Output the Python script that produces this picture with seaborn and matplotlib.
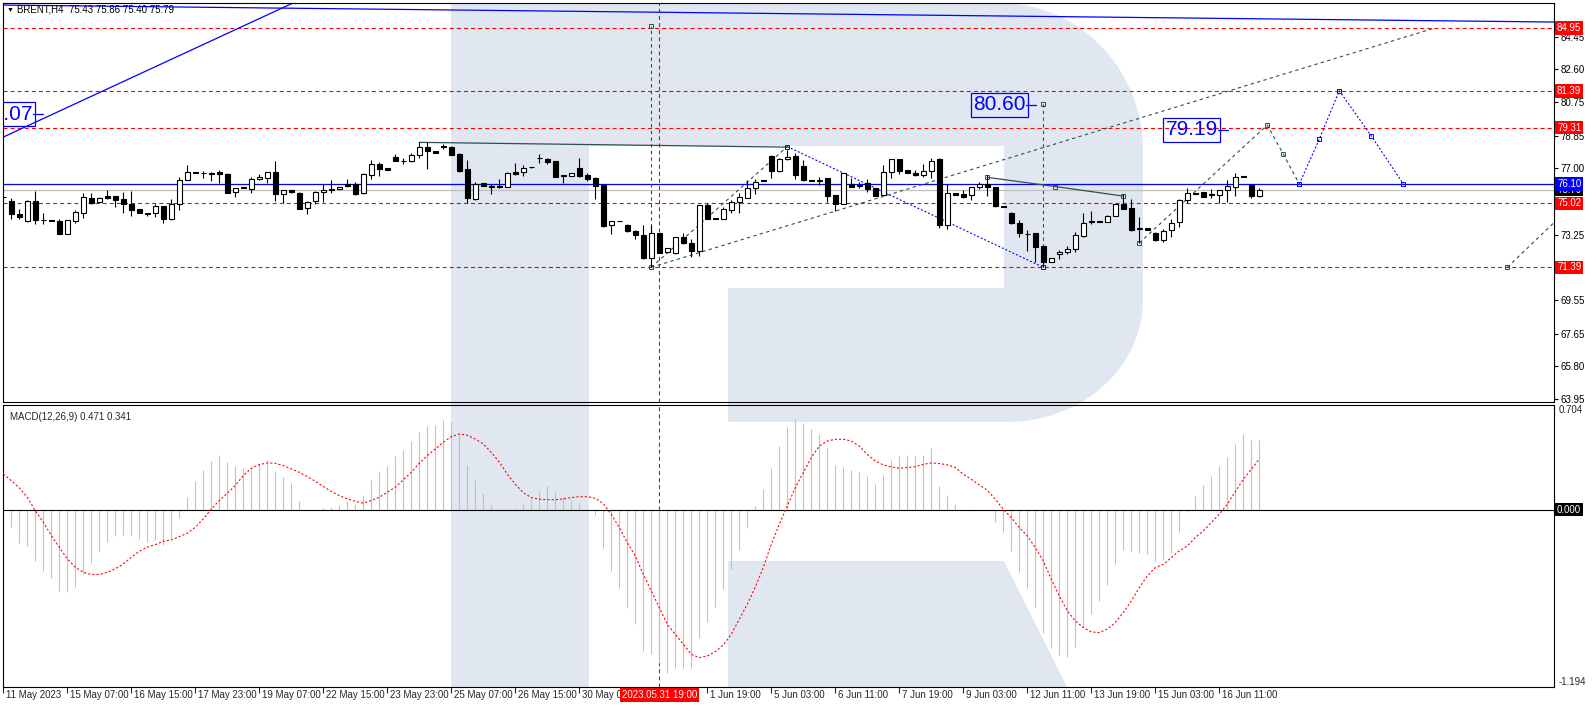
import numpy as np
import matplotlib
matplotlib.use("Agg")
import matplotlib.pyplot as plt
import matplotlib.transforms as mtrans
from matplotlib.patches import Polygon
import seaborn as sns

# ---- H4 candles, BRENT ----
opens = [75.38, 75.15, 74.41, 74.02, 75.15, 74.07, 74.06, 74.02, 73.30, 74.04,
         74.45, 75.30, 75.09, 75.43, 75.43, 75.26, 74.98, 74.70, 74.45, 74.49,
         74.87, 74.15, 74.98, 76.32, 76.77, 76.72, 76.72, 76.77, 76.68, 75.64,
         75.90, 75.85, 76.38, 76.43, 76.77, 75.53, 75.75, 75.60, 74.74, 75.13,
         75.64, 75.81, 75.81, 76.09, 76.09, 75.58, 76.62, 77.23, 77.00, 77.66,
         77.42, 77.41, 77.75, 78.23, 77.96, 78.24, 78.23, 77.81, 76.94, 75.26,
         76.15, 76.02, 76.02, 75.96, 76.79, 76.77, 77.06, 77.57, 77.51, 77.41,
         76.58, 76.57, 77.00, 76.62, 76.43, 76.06, 73.79, 74.02, 73.77, 73.45,
         73.21, 71.90, 73.32, 72.25, 72.19, 73.09, 72.75, 72.34, 74.90, 74.17,
         74.13, 74.64, 75.08, 75.30, 75.90, 76.30, 77.70, 76.87, 77.51, 77.70,
         77.13, 76.34, 76.30, 76.47, 75.49, 74.98, 76.09, 76.00, 76.15, 75.87,
         75.49, 76.81, 77.51, 76.90, 76.75, 76.62, 76.87, 77.53, 73.79, 75.58,
         75.53, 75.49, 75.92, 76.11, 75.92, 74.87, 74.49, 73.89, 73.28, 73.36,
         72.60, 71.72, 72.13, 72.28, 72.41, 73.17, 73.98, 74.00, 73.98, 74.32,
         74.96, 74.74, 73.57, 73.60, 73.32, 72.94, 73.51, 73.94, 75.20, 75.58,
         75.64, 75.49, 75.49, 75.77, 75.96, 76.53, 76.06, 75.43]
highs = [75.40, 75.30, 74.68, 75.20, 75.72, 74.45, 74.06, 74.11, 74.10, 74.64,
         75.59, 75.62, 75.40, 75.77, 75.43, 75.66, 75.72, 74.70, 74.45, 74.98,
         74.87, 75.26, 76.53, 77.19, 76.77, 76.87, 76.77, 76.90, 76.72, 75.87,
         75.94, 76.53, 76.66, 76.77, 77.41, 75.75, 75.75, 75.66, 75.17, 75.72,
         76.09, 76.34, 75.94, 76.38, 76.21, 76.72, 77.47, 77.38, 77.00, 77.81,
         77.57, 77.85, 78.51, 78.51, 77.96, 78.38, 78.28, 77.89, 77.47, 76.25,
         76.19, 76.09, 76.40, 76.81, 77.28, 77.19, 77.08, 77.81, 77.59, 77.43,
         76.58, 76.72, 77.57, 76.76, 76.49, 76.09, 74.02, 74.03, 73.83, 73.51,
         73.79, 73.79, 73.32, 72.47, 73.11, 73.32, 72.98, 74.90, 75.02, 74.17,
         74.83, 75.20, 75.59, 76.34, 76.38, 76.32, 77.75, 77.57, 78.04, 77.85,
         77.47, 76.36, 76.53, 76.47, 75.49, 76.72, 76.43, 76.25, 76.38, 75.87,
         77.19, 77.51, 77.51, 76.90, 76.90, 77.25, 77.57, 77.57, 76.11, 75.58,
         75.77, 75.92, 76.25, 76.62, 75.96, 74.87, 74.55, 74.08, 73.51, 73.36,
         72.60, 71.90, 72.38, 72.60, 73.41, 74.49, 74.60, 74.00, 74.36, 74.96,
         75.53, 75.24, 74.26, 73.60, 73.41, 73.55, 74.13, 75.24, 75.90, 75.60,
         75.64, 75.81, 75.77, 76.34, 76.72, 76.55, 76.10, 75.86]
lows = [75.30, 74.13, 74.13, 73.96, 73.83, 73.83, 74.00, 73.30, 73.30, 73.92,
        74.20, 74.96, 75.02, 75.24, 74.83, 74.49, 74.32, 74.45, 74.30, 74.26,
        73.92, 74.08, 74.64, 76.32, 76.72, 76.43, 76.30, 76.19, 75.58, 75.40,
        75.88, 75.62, 76.34, 76.15, 75.17, 75.02, 75.62, 74.68, 74.40, 74.96,
        75.09, 75.58, 75.79, 75.94, 75.51, 75.55, 76.40, 76.58, 76.92, 77.43,
        77.23, 77.38, 77.57, 76.94, 77.89, 78.10, 77.75, 76.81, 75.02, 75.20,
        76.02, 75.55, 75.90, 75.92, 76.60, 76.57, 77.04, 77.28, 77.24, 76.53,
        76.15, 76.57, 76.49, 76.30, 75.25, 73.70, 73.26, 74.00, 73.41, 73.00,
        71.87, 71.40, 72.23, 72.25, 72.13, 72.72, 71.96, 72.04, 74.13, 74.13,
        74.13, 74.49, 74.49, 75.30, 75.55, 76.28, 76.43, 76.81, 77.47, 76.38,
        76.30, 76.26, 76.06, 75.11, 74.60, 74.98, 75.92, 75.87, 75.68, 75.43,
        75.49, 76.43, 76.66, 76.75, 76.57, 76.53, 76.43, 73.60, 73.55, 75.49,
        75.30, 75.20, 75.81, 75.43, 74.83, 74.83, 73.85, 73.13, 72.32, 71.72,
        71.43, 71.72, 71.85, 72.13, 72.25, 73.13, 73.85, 73.96, 73.98, 74.32,
        74.72, 73.47, 72.75, 73.51, 72.90, 72.85, 73.13, 73.66, 75.02, 75.56,
        75.36, 75.30, 75.02, 75.09, 75.43, 76.49, 75.30, 75.40]
closes = [75.36, 74.40, 74.26, 75.15, 74.06, 74.06, 74.00, 73.30, 74.08, 74.51,
          75.36, 75.02, 75.30, 75.32, 75.20, 74.96, 74.64, 74.45, 74.44, 74.87,
          74.15, 74.98, 76.32, 76.77, 76.72, 76.72, 76.66, 76.66, 75.62, 75.87,
          75.92, 76.38, 76.49, 76.77, 75.53, 75.75, 75.66, 74.72, 75.08, 75.66,
          75.75, 75.75, 75.92, 76.02, 75.55, 76.66, 77.23, 76.94, 76.92, 77.43,
          77.41, 77.75, 78.19, 77.98, 77.89, 78.23, 77.75, 76.87, 75.30, 76.09,
          76.02, 75.92, 75.92, 76.72, 76.68, 77.04, 77.05, 77.56, 77.36, 76.53,
          76.57, 76.72, 76.58, 76.40, 76.02, 73.74, 74.02, 74.01, 73.45, 73.21,
          71.90, 73.32, 72.23, 72.47, 73.11, 72.75, 72.34, 74.90, 74.13, 74.13,
          74.70, 75.09, 75.36, 75.90, 76.25, 76.30, 76.87, 77.51, 77.66, 76.62,
          76.34, 76.26, 76.30, 75.43, 74.98, 76.72, 75.96, 76.00, 75.81, 75.43,
          76.81, 77.51, 76.87, 76.75, 76.64, 76.87, 77.43, 73.79, 75.58, 75.49,
          75.40, 75.92, 76.11, 75.92, 74.87, 74.83, 73.89, 73.32, 73.28, 72.57,
          71.68, 71.90, 72.28, 72.43, 73.23, 73.92, 73.98, 73.96, 74.32, 74.96,
          74.72, 73.51, 73.57, 73.51, 72.94, 73.47, 73.89, 75.20, 75.58, 75.57,
          75.40, 75.49, 75.77, 76.00, 76.49, 76.51, 75.43, 75.79]

# ---- MACD(12,26,9): histogram and signal ----
macd_main = [-0.030, -0.119, -0.226, -0.242, -0.343, -0.410, -0.462, -0.549, -0.556, -0.523,
             -0.433, -0.361, -0.287, -0.220, -0.180, -0.168, -0.175, -0.197, -0.220, -0.202,
             -0.236, -0.191, -0.058, 0.083, 0.191, 0.269, 0.330, 0.370, 0.323, 0.296,
             0.278, 0.289, 0.312, 0.336, 0.262, 0.222, 0.177, 0.061, 0.000, 0.000,
             0.009, 0.020, 0.034, 0.061, 0.038, 0.101, 0.202, 0.258, 0.296, 0.363,
             0.404, 0.460, 0.525, 0.561, 0.572, 0.605, 0.587, 0.509, 0.303, 0.202,
             0.114, 0.034, -0.009, 0.002, 0.009, 0.043, 0.070, 0.123, 0.157, 0.117,
             0.083, 0.070, 0.043, 0.004, -0.036, -0.260, -0.413, -0.527, -0.662, -0.772,
             -0.953, -0.974, -1.030, -1.099, -1.068, -1.063, -1.068, -0.866, -0.758, -0.657,
             -0.536, -0.402, -0.274, -0.126, 0.022, 0.137, 0.278, 0.426, 0.556, 0.608,
             0.581, 0.541, 0.511, 0.419, 0.298, 0.287, 0.267, 0.253, 0.227, 0.170,
             0.231, 0.332, 0.361, 0.366, 0.361, 0.366, 0.413, 0.157, 0.096, 0.036,
             0.000, -0.009, 0.000, -0.002, -0.083, -0.150, -0.278, -0.419, -0.525, -0.662,
             -0.832, -0.933, -0.978, -0.991, -0.924, -0.790, -0.704, -0.615, -0.509, -0.368,
             -0.271, -0.285, -0.289, -0.298, -0.345, -0.339, -0.294, -0.150, -0.013, 0.090,
             0.164, 0.227, 0.294, 0.354, 0.440, 0.507, 0.467, 0.471]
macd_signal = [0.240, 0.195, 0.146, 0.083, -0.007, -0.085, -0.175, -0.253, -0.332, -0.388,
               -0.422, -0.437, -0.437, -0.422, -0.399, -0.366, -0.321, -0.281, -0.253, -0.236,
               -0.213, -0.204, -0.182, -0.159, -0.119, -0.063, 0.004, 0.061, 0.110, 0.162,
               0.229, 0.278, 0.303, 0.314, 0.312, 0.296, 0.274, 0.251, 0.222, 0.191,
               0.155, 0.123, 0.094, 0.072, 0.056, 0.043, 0.061, 0.083, 0.117, 0.150,
               0.200, 0.251, 0.312, 0.363, 0.408, 0.453, 0.491, 0.509, 0.500, 0.475,
               0.442, 0.385, 0.320, 0.238, 0.170, 0.114, 0.081, 0.070, 0.067, 0.067,
               0.072, 0.081, 0.087, 0.087, 0.076, 0.040, -0.031, -0.121, -0.222, -0.312,
               -0.435, -0.547, -0.659, -0.772, -0.839, -0.906, -0.974, -0.996, -0.985, -0.956,
               -0.911, -0.839, -0.738, -0.637, -0.520, -0.390, -0.233, -0.099, 0.025, 0.148,
               0.249, 0.350, 0.428, 0.462, 0.473, 0.473, 0.462, 0.428, 0.372, 0.327,
               0.301, 0.287, 0.278, 0.283, 0.289, 0.305, 0.314, 0.310, 0.301, 0.283,
               0.238, 0.204, 0.166, 0.130, 0.070, 0.002, -0.054, -0.121, -0.177, -0.256,
               -0.345, -0.469, -0.581, -0.682, -0.749, -0.794, -0.823, -0.828, -0.805, -0.760,
               -0.693, -0.615, -0.525, -0.446, -0.390, -0.368, -0.323, -0.278, -0.245, -0.188,
               -0.144, -0.087, -0.031, 0.036, 0.121, 0.204, 0.271, 0.341]

# ---- axis / level values ----
price_ticks = [84.45, 82.60, 80.75, 78.85, 77.00, 73.25, 69.55, 67.65, 65.80, 63.95]
level_prices = [84.95, 81.39, 79.31, 75.02, 71.39]
ask_price = 76.10
bid_price = 75.79
time_tick_bars = [0, 8, 16, 24, 32, 40, 48, 56, 64, 72, 80, 88, 96, 104, 112, 120, 128, 136, 144, 152]
time_tick_labels = ["11 May 2023", "15 May 07:00", "16 May 15:00", "17 May 23:00", "19 May 07:00",
                    "22 May 15:00", "23 May 23:00", "25 May 07:00", "26 May 15:00", "30 May 03:00",
                    "", "1 Jun 19:00", "5 Jun 03:00", "6 Jun 11:00", "7 Jun 19:00",
                    "9 Jun 03:00", "12 Jun 11:00", "13 Jun 19:00", "15 Jun 03:00", "16 Jun 11:00"]
cursor_bar = 82
cursor_label = "2023.05.31 19:00"

# ---- analyst drawings (bar index, price) ----
top_line_bars, top_line_prices = [52, 98], [78.47, 78.20]
rise_bars, rise_prices = [81, 98], [71.40, 78.23]
fall_bars, fall_prices = [98, 130], [78.23, 71.40]
long_bars, long_prices = [81, 179], [71.40, 84.95]
vert1_bars, vert1_prices = [81, 81], [71.40, 85.05]
vert2_bars, vert2_prices = [130, 130], [71.40, 80.62]
neck_bars, neck_prices = [123, 131.5, 140], [76.49, 75.97, 75.43]
fc_grey_bars, fc_grey_prices = [142, 158, 160, 162], [72.78, 79.45, 77.80, 76.12]
fc_blue_bars, fc_blue_prices = [162, 164.5, 167, 171, 175], [76.12, 78.65, 81.39, 78.83, 76.12]
tail_bars, tail_prices = [188, 195], [71.40, 74.43]
chan_bars, chan_prices = [0, 40], [78.77, 87.15]
roof_bars, roof_prices = [0, 193.84], [86.24, 85.28]
target_labels = [("80.07", 3.7, 80.07), ("80.60", 127.8, 80.60), ("79.19", 151.8, 79.19)]

sns.set_theme(style="white")
plt.rcParams['font.family'] = ['Liberation Sans', 'DejaVu Sans']
plt.rcParams['lines.scale_dashes'] = False

W, H = 1594, 707
fig = plt.figure(figsize=(W / 100, H / 100), dpi=100)
fig.patch.set_facecolor("white")


def px_rect(l, t, r, b):
    return [l / W, 1 - b / H, (r - l) / W, (b - t) / H]


ax = fig.add_axes(px_rect(3, 3, 1554, 402))
ax2 = fig.add_axes(px_rect(3, 405, 1554, 687), sharex=ax)

# watermark "R" logo behind the panels (pixel coords, origin top-left)
px = mtrans.Affine2D().scale(1 / W, -1 / H).translate(0, 1) + fig.transFigure
wm = "#e0e7f1"
t1 = np.linspace(np.pi / 2, 0, 20)
t2 = np.linspace(0, -np.pi / 2, 20)
bowl = ([(589, 3)] + [(1000 + 143 * np.cos(t), 150 - 147 * np.sin(t)) for t in t1]
        + [(1143, 300)] + [(1007 + 136 * np.cos(t), 300 - 122 * np.sin(t)) for t in t2]
        + [(728, 422), (728, 288), (1004, 288), (1004, 146), (589, 146)])
shapes = [[(451, 3), (589, 3), (589, 687), (451, 687)], bowl,
          [(728, 561), (1004, 561), (1067, 687), (728, 687)]]
for s in shapes:
    fig.patches.append(Polygon(s, closed=True, transform=px, facecolor=wm,
                               edgecolor="none", zorder=-5))

for a in (ax, ax2):
    a.set_facecolor("none")
    for sp in a.spines.values():
        sp.set_color("black")
        sp.set_linewidth(0.8)
    a.grid(False)

n = len(opens)
x = np.arange(n)
o, h, l, c = map(np.array, (opens, highs, lows, closes))
up = c >= o
bottom = np.minimum(o, c)
height = np.maximum(np.abs(c - o), 0.03)

red_dash = (0, (2.9, 2.2))
grey_dash = (0, (2.4, 2.4))
blue_dash = (0, (1.4, 1.4))
slate = "#2f4f4f"

for p in level_prices:
    ax.axhline(p, color="red", lw=0.8, ls=red_dash, zorder=1)
ax.axhline(bid_price, color="#c0c0c0", lw=0.9, zorder=1)
ax.axhline(ask_price, color="blue", lw=0.9, zorder=2)
ax.axvline(cursor_bar, color="red", lw=0.8, ls=red_dash, zorder=1)
ax2.axvline(cursor_bar, color="red", lw=0.8, ls=red_dash, zorder=1)

ax.vlines(x, l, h, color="black", lw=0.8, zorder=3)
ax.bar(x[up], height[up], bottom=bottom[up], width=0.62, facecolor="white",
       edgecolor="black", linewidth=0.8, zorder=4)
ax.bar(x[~up], height[~up], bottom=bottom[~up], width=0.62, facecolor="black",
       edgecolor="black", linewidth=0.8, zorder=4)

mk = dict(marker="s", markersize=3, markerfacecolor="none", markeredgewidth=0.7)
ax.plot(top_line_bars, top_line_prices, color=slate, lw=0.9, zorder=2)
ax.plot(rise_bars, rise_prices, color=slate, lw=0.8, ls=grey_dash, zorder=2, markevery=[0], **mk)
ax.plot(fall_bars, fall_prices, color="blue", lw=0.8, ls=blue_dash, zorder=2, **mk)
ax.plot(long_bars, long_prices, color=slate, lw=0.8, ls=grey_dash, zorder=2)
ax.plot(vert1_bars, vert1_prices, color=slate, lw=0.8, ls=grey_dash, zorder=2, markevery=[1], **mk)
ax.plot(vert2_bars, vert2_prices, color=slate, lw=0.8, ls=grey_dash, zorder=2, markevery=[1], **mk)
ax.plot(neck_bars, neck_prices, color=slate, lw=0.9, zorder=2, **mk)
ax.plot(fc_grey_bars, fc_grey_prices, color=slate, lw=0.8, ls=grey_dash, zorder=2, **mk)
ax.plot(fc_blue_bars, fc_blue_prices, color="blue", lw=0.8, ls=blue_dash, zorder=2, **mk)
ax.plot(tail_bars, tail_prices, color=slate, lw=0.8, ls=grey_dash, zorder=2, markevery=[0], **mk)
ax.plot(chan_bars, chan_prices, color="blue", lw=0.9, zorder=2)
ax.plot(roof_bars, roof_prices, color="blue", lw=0.9, zorder=2)

for txt, bx, by in target_labels:
    ax.text(bx, by, txt, ha="right", va="center", fontsize=15, color="blue", zorder=6,
            clip_on=True, bbox=dict(boxstyle="square,pad=0.12", fc="none", ec="blue", lw=0.9))
    ax.plot([bx, bx + 1.3], [by, by], color="blue", lw=0.9, zorder=6)

ax.set_xlim(-0.0375, 193.8375)
ax.set_ylim(63.776, 86.357)
ax.yaxis.tick_right()
ax.set_yticks(price_ticks)
ax.set_yticklabels([f"{t:.2f}" for t in price_ticks])
ax.tick_params(axis="y", right=True, length=3, width=0.8, pad=2, labelsize=7, colors="black")
ax.tick_params(axis="x", bottom=False, labelbottom=False)

ytr = ax.get_yaxis_transform()
box_kw = dict(transform=ytr, ha="left", va="center", fontsize=7, color="white",
              clip_on=False, zorder=10)
for p in level_prices:
    ax.text(1.002, p, f"{p:.2f}", bbox=dict(boxstyle="square,pad=0.18", fc="red", ec="none"), **box_kw)
ax.text(1.002, bid_price, f"{bid_price:.2f}", bbox=dict(boxstyle="square,pad=0.18", fc="black", ec="none"), **box_kw)
ax.text(1.002, ask_price, f"{ask_price:.2f}", bbox=dict(boxstyle="square,pad=0.18", fc="blue", ec="none"), **box_kw)

fig.text(7 / W, 1 - 10 / H, "\u25bc", fontsize=5, va="center", ha="left", color="black")
fig.text(17 / W, 1 - 10 / H, f"BRENT,H4  {opens[-1]:.2f} {highs[-1]:.2f} {lows[-1]:.2f} {closes[-1]:.2f}",
         fontsize=7, va="center", ha="left", color="black")

# ---- MACD panel ----
ax2.vlines(x, 0, macd_main, color="#c0c0c0", lw=0.8, zorder=2)
ax2.axhline(0, color="black", lw=0.8, zorder=3)
sns.lineplot(x=x, y=macd_signal, ax=ax2, color="red", lw=0.8, linestyle=(0, (1.5, 1.5)), zorder=4)
ax2.set_ylim(-1.194, 0.704)
ax2.set_yticks([])
ax2.set_ylabel("")
ax2.text(7 / 1551, 0.975, f"MACD(12,26,9) {macd_main[-1]:.3f} {macd_signal[-1]:.3f}",
         transform=ax2.transAxes, fontsize=7, va="top", ha="left")
ax2.text(1.003, 0.704, "0.704", transform=ytr if False else ax2.get_yaxis_transform(),
         fontsize=7, va="top", ha="left", clip_on=False)
ax2.text(1.003, -1.194, "-1.194", transform=ax2.get_yaxis_transform(),
         fontsize=7, va="bottom", ha="left", clip_on=False)
ax2.text(1.002, 0.0, "0.000", transform=ax2.get_yaxis_transform(), fontsize=7, va="center",
         ha="left", color="white", clip_on=False,
         bbox=dict(boxstyle="square,pad=0.18", fc="black", ec="none"))

ax2.set_xticks(time_tick_bars)
ax2.set_xticklabels([])
ax2.tick_params(axis="x", bottom=True, length=4, width=0.8, direction="out")
lab_tr = mtrans.offset_copy(ax2.get_xaxis_transform(), fig=fig, x=3, y=-3, units="dots")
for b, s in zip(time_tick_bars, time_tick_labels):
    ax2.text(b, 0, s, transform=lab_tr, fontsize=7, ha="left", va="top", clip_on=False)
cur_tr = mtrans.offset_copy(ax2.get_xaxis_transform(), fig=fig, x=0, y=-3, units="dots")
ax2.text(cursor_bar, 0, cursor_label, transform=cur_tr, fontsize=7, ha="center", va="top",
         color="white", clip_on=False, zorder=10,
         bbox=dict(boxstyle="square,pad=0.2", fc="red", ec="none"))

fig.savefig("out.png", dpi=100, facecolor="white")
